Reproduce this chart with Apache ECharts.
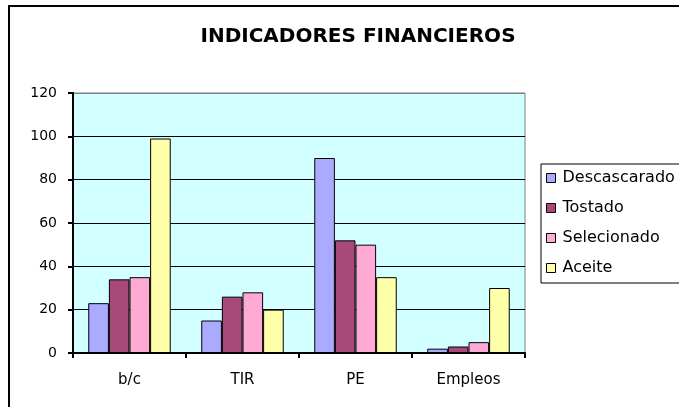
<!DOCTYPE html>
<html>
<head>
<meta charset="utf-8">
<script src="https://cdn.jsdelivr.net/npm/echarts@6/dist/echarts.min.js"></script>
<style>
  html, body { margin: 0; padding: 0; background: #fff; }
  #chart { width: 679px; height: 407px; }
</style>
</head>
<body>
<div id="chart"></div>
<script>
// datos del gráfico
var categorias = ['b/c', 'TIR', 'PE', 'Empleos'];
var descascarado = [23, 15, 90, 2];
var tostado = [34, 26, 52, 3];
var selecionado = [35, 28, 50, 5];
var aceite = [99, 20, 35, 30];
var nombres = ['Descascarado', 'Tostado', 'Selecionado', 'Aceite'];
var colores = ['#AAAAFF', '#A8497A', '#FFAAD4', '#FFFFAA'];

var chart = echarts.init(document.getElementById('chart'));

function serie(i, valores) {
    return {
        name: nombres[i],
        type: 'bar',
        data: valores,
        barGap: '0%',
        barCategoryGap: '27%',
        itemStyle: {
            color: colores[i],
            borderColor: '#000',
            borderWidth: 1
        }
    };
}

var option = {
    animation: false,
    backgroundColor: '#fff',
    textStyle: { fontFamily: 'DejaVu Sans' },
    title: {
        text: 'INDICADORES FINANCIEROS',
        left: 353,
        top: 22,
        textAlign: 'center',
        textStyle: {
            fontFamily: 'DejaVu Sans',
            fontSize: 20,
            fontWeight: 'bold',
            color: '#000'
        }
    },
    graphic: [
        {
            type: 'rect',
            shape: { x: 9, y: 6, width: 720, height: 440 },
            style: { fill: 'none', stroke: '#000', lineWidth: 2 },
            z: 100
        }
    ],
    legend: {
        orient: 'vertical',
        left: 541,
        top: 164,
        padding: [6, 40, 7, 5],
        itemGap: 14,
        itemWidth: 9,
        itemHeight: 9,
        icon: 'rect',
        borderColor: '#000',
        borderWidth: 1,
        backgroundColor: '#fff',
        selectedMode: false,
        textStyle: {
            fontFamily: 'DejaVu Sans',
            fontSize: 16,
            color: '#000',
            padding: [0, 0, 0, 2]
        },
        itemStyle: { borderColor: '#000', borderWidth: 1 },
        data: nombres
    },
    grid: {
        left: 73,
        top: 93,
        width: 452,
        height: 260,
        show: true,
        backgroundColor: '#D2FFFF',
        borderColor: '#808080',
        borderWidth: 1
    },
    xAxis: {
        type: 'category',
        data: categorias,
        axisLine: { lineStyle: { color: '#000', width: 2 } },
        axisTick: { show: true, inside: false, length: 5, lineStyle: { color: '#000', width: 2 } },
        axisLabel: { color: '#000', fontSize: 15, margin: 20, fontFamily: 'DejaVu Sans' },
        splitLine: { show: false }
    },
    yAxis: {
        type: 'value',
        min: 0,
        max: 120,
        interval: 20,
        axisLine: { show: true, lineStyle: { color: '#000', width: 2 } },
        axisTick: { show: true, length: 5, lineStyle: { color: '#000', width: 2 } },
        axisLabel: { color: '#000', fontSize: 14, margin: 16, fontFamily: 'DejaVu Sans' },
        splitLine: {
            show: true,
            lineStyle: {
                color: ['#000', '#000', '#000', '#000', '#000', '#000', '#808080'],
                width: 1
            }
        }
    },
    series: [
        serie(0, descascarado),
        serie(1, tostado),
        serie(2, selecionado),
        serie(3, aceite)
    ]
};

chart.setOption(option);
</script>
</body>
</html>
